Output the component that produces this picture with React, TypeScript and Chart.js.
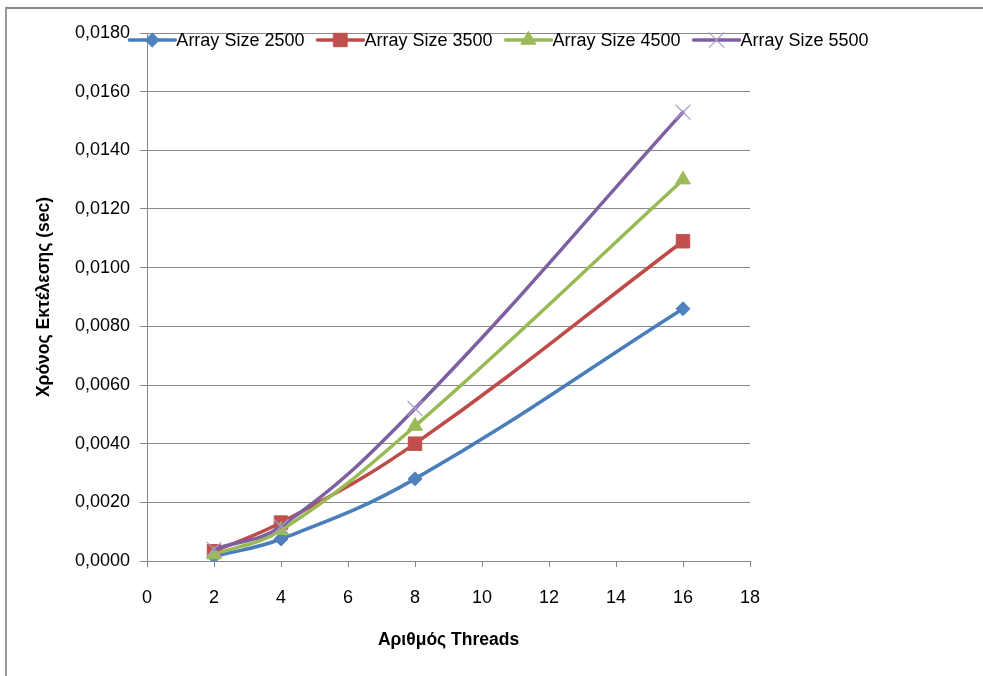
import { useEffect, useRef } from 'react';
import { Chart, registerables } from 'chart.js';
import { drawPoint } from 'chart.js/helpers';

Chart.register(...registerables);

// Thread counts on the x axis
const threads = [2, 4, 8, 16];

// Execution time (sec) per array size
const size2500 = [0.00015, 0.00075, 0.0028, 0.0086];
const size3500 = [0.00033, 0.00131, 0.004, 0.0109];
const size4500 = [0.00022, 0.00105, 0.0046, 0.013];
const size5500 = [0.0004, 0.00118, 0.0052, 0.0153];

const seriesLabels = ['Array Size 2500', 'Array Size 3500', 'Array Size 4500', 'Array Size 5500'];

// Axis ranges
const xMin = 0;
const xMax = 18;
const xStep = 2;
const yMin = 0;
const yMax = 0.018;
const yStep = 0.002;

const xTitle = 'Αριθμός Threads';
const yTitle = 'Χρόνος Εκτέλεσης (sec)';

const FONT = '"Liberation Sans", Arial, sans-serif';
const GRID = '#878787';

const toPoints = (ys: number[]) => ys.map((y, i) => ({ x: threads[i], y }));

// Legend drawn over the top of the plot, each entry a line sample with its marker
const overlayLegend = {
  id: 'overlayLegend',
  afterDraw(chart: any) {
    const { ctx } = chart;
    const centerX = 499;
    const y = 40;
    const lineLen = 46;
    const textGap = 1;
    const itemGap = 13;
    ctx.save();
    ctx.font = `18px ${FONT}`;
    const items = chart.data.datasets.map((ds: any) => ({
      ds,
      w: lineLen + textGap + ctx.measureText(ds.label).width,
    }));
    const total = items.reduce((s: number, it: any) => s + it.w, 0) + itemGap * (items.length - 1);
    let x = centerX - total / 2;
    for (const { ds, w } of items) {
      ctx.beginPath();
      ctx.lineWidth = ds.borderWidth;
      ctx.lineCap = 'round';
      ctx.strokeStyle = ds.borderColor;
      ctx.moveTo(x, y);
      ctx.lineTo(x + lineLen, y);
      ctx.stroke();
      ctx.fillStyle = ds.pointBackgroundColor;
      ctx.strokeStyle = ds.pointBorderColor;
      ctx.lineWidth = ds.pointBorderWidth;
      drawPoint(
        ctx,
        { pointStyle: ds.pointStyle, rotation: 0, radius: ds.pointRadius, borderWidth: ds.pointBorderWidth },
        x + lineLen / 2,
        y
      );
      ctx.fillStyle = '#000';
      ctx.textBaseline = 'middle';
      ctx.textAlign = 'left';
      ctx.fillText(ds.label, x + lineLen + textGap, y + 1);
      x += w + itemGap;
    }
    ctx.restore();
  },
};

export default function App() {
  const canvasRef = useRef<HTMLCanvasElement | null>(null);

  useEffect(() => {
    const canvas = canvasRef.current;
    if (!canvas) return;
    Chart.defaults.font.family = FONT;
    Chart.defaults.color = '#000';

    const line = (
      label: string,
      data: number[],
      lineColor: string,
      markColor: string,
      pointStyle: string,
      radius: number,
      order: number,
      markBorder?: string,
      markBorderWidth = 1
    ) => ({
      label,
      data: toPoints(data),
      borderColor: lineColor,
      borderWidth: 3.5,
      borderCapStyle: 'round',
      borderJoinStyle: 'round',
      tension: 0.4,
      pointStyle,
      pointRadius: radius,
      pointHoverRadius: radius,
      pointBackgroundColor: markColor,
      pointBorderColor: markBorder ?? markColor,
      pointBorderWidth: markBorderWidth,
      fill: false,
      order,
    });

    const chart = new Chart(canvas, {
      type: 'line',
      data: {
        datasets: [
          line(seriesLabels[0], size2500, '#4A7EBB', '#4F81BD', 'rectRot', 7, 4),
          line(seriesLabels[1], size3500, '#BE4B48', '#C0504D', 'rect', 9.5, 3),
          line(seriesLabels[2], size4500, '#98B954', '#9BBB59', 'triangle', 8.5, 2),
          line(seriesLabels[3], size5500, '#7D60A0', '#7D60A0', 'crossRot', 10.5, 1, '#AC9DCB', 1.2),
        ] as any,
      },
      options: {
        responsive: false,
        animation: false,
        devicePixelRatio: 1,
        layout: { padding: { left: 0, top: 33, right: 233, bottom: 0 } },
        plugins: {
          legend: { display: false },
          tooltip: { enabled: false },
        },
        scales: {
          x: {
            type: 'linear',
            min: xMin,
            max: xMax,
            afterFit: (scale: any) => {
              scale.height = 115;
            },
            ticks: {
              stepSize: xStep,
              padding: 20,
              color: '#000',
              font: { size: 18, family: FONT },
              maxRotation: 0,
            },
            grid: {
              drawOnChartArea: false,
              drawTicks: true,
              tickLength: 6,
              color: GRID,
            },
            border: { display: true, color: GRID, width: 1 },
            title: {
              display: true,
              text: xTitle,
              color: '#000',
              font: { size: 17.5, weight: 'bold', family: FONT },
              padding: { top: 0, bottom: 25 },
            },
          },
          y: {
            type: 'linear',
            min: yMin,
            max: yMax,
            afterFit: (scale: any) => {
              scale.width = 147;
            },
            ticks: {
              stepSize: yStep,
              padding: 10,
              color: '#000',
              font: { size: 18, family: FONT },
              callback: (v: any) => Number(v).toFixed(4).replace('.', ','),
            },
            grid: {
              drawOnChartArea: true,
              drawTicks: true,
              tickLength: 7,
              color: GRID,
            },
            border: { display: true, color: GRID, width: 1 },
            title: {
              display: true,
              text: yTitle,
              color: '#000',
              font: { size: 17.5, weight: 'bold', family: FONT },
              padding: { top: 34, bottom: 0 },
            },
          },
        },
      } as any,
      plugins: [overlayLegend],
    });

    return () => chart.destroy();
  }, []);

  return (
    <div
      style={{
        position: 'fixed',
        left: 0,
        top: 0,
        width: 983,
        height: 676,
        overflow: 'hidden',
        background: '#fff',
      }}
    >
      <div
        style={{
          position: 'absolute',
          left: 5,
          top: 7,
          width: 1200,
          height: 900,
          borderTop: '2px solid #8a8a8a',
          borderLeft: '2px solid #9a9a9a',
        }}
      />
      <canvas
        ref={canvasRef}
        width={983}
        height={676}
        style={{ position: 'absolute', left: 0, top: 0, width: 983, height: 676, display: 'block' }}
      />
    </div>
  );
}
